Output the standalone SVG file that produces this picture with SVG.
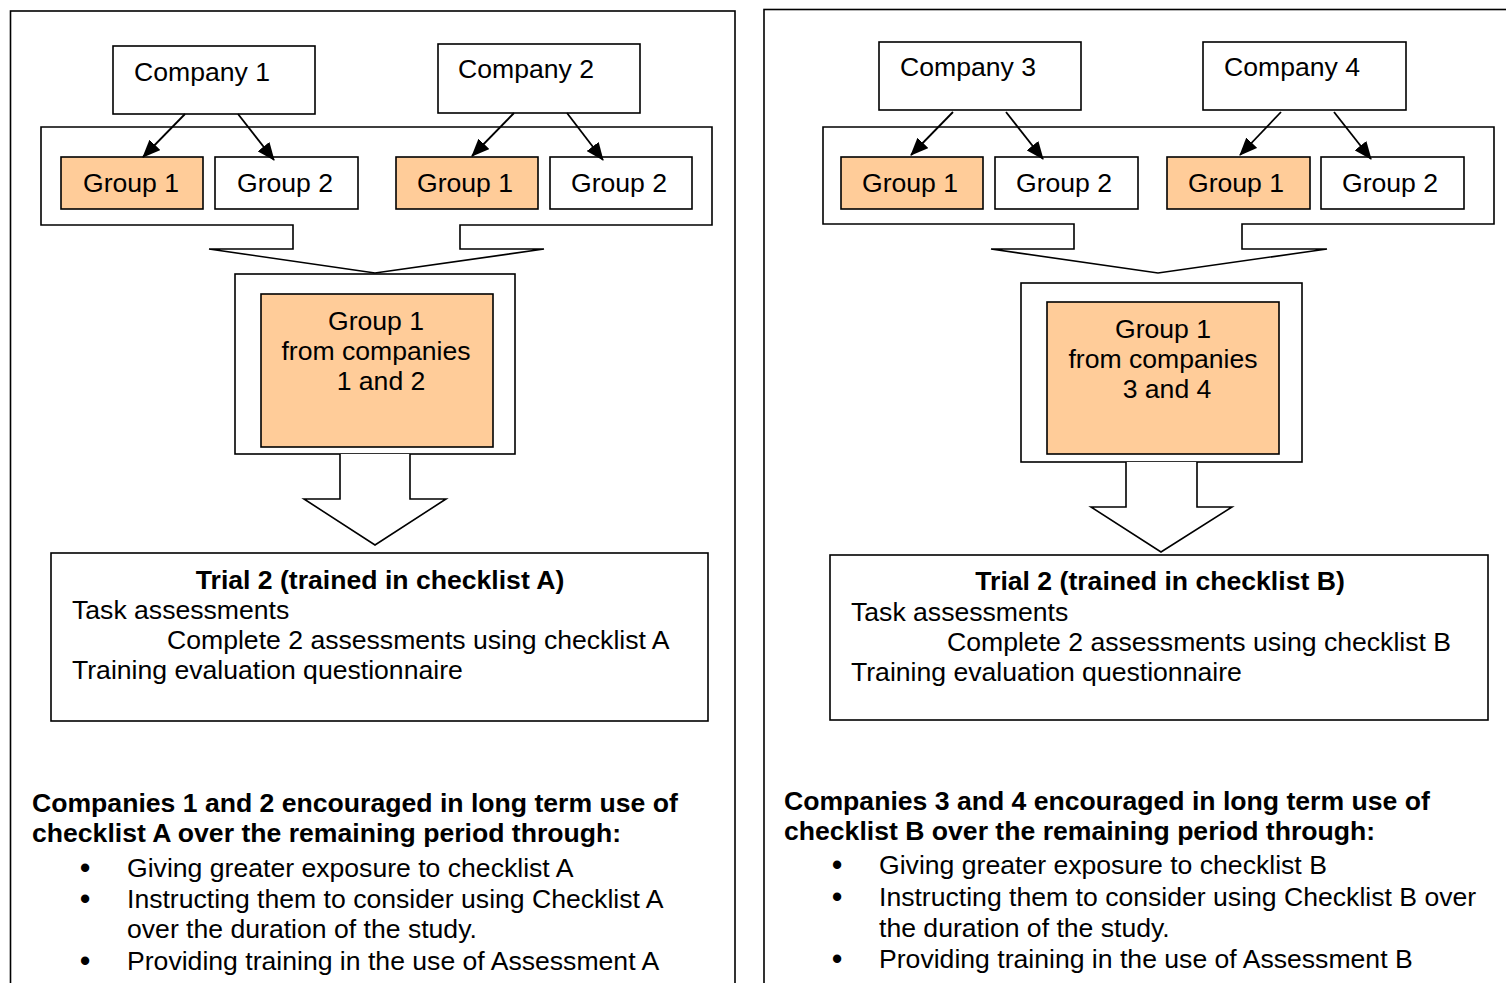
<svg xmlns="http://www.w3.org/2000/svg" width="1506" height="983" viewBox="0 0 1506 983">
<style>
text{font-family:"Liberation Sans",Arial,sans-serif;font-size:26.6px;fill:#000}
.b{font-weight:bold}
.m{text-anchor:middle}
.bu{font-size:29px;font-weight:bold;text-anchor:middle}
.box{fill:#fff;stroke:#000;stroke-width:1.6}
.org{fill:#FFCC99;stroke:#000;stroke-width:1.6}
.ln{fill:none;stroke:#000;stroke-width:1.8}
</style>
<defs>
<marker id="ah" markerUnits="userSpaceOnUse" markerWidth="18" markerHeight="15" refX="17" refY="7.5" orient="auto">
<path d="M0,0 L18,7.5 L0,15 Z" fill="#000"/>
</marker>
</defs>
<rect width="1506" height="983" fill="#fff"/>
<!-- left panel -->
<g id="panelA">
<rect class="box" x="10.5" y="11" width="724.5" height="990"/>
</g>
<g id="containerA"><path class="box" d="M41,127 H712 V225 H460 V249 H544 L375,273 L209,249 H293 V225 H41 Z"/></g>
<g id="company1"><rect class="box" x="113" y="46" width="202" height="68"/><text x="134" y="81">Company 1</text></g>
<g id="company2"><rect class="box" x="438" y="44" width="202" height="69"/><text x="458" y="78">Company 2</text></g>
<g id="a_g1"><rect class="org" x="61" y="157" width="142" height="52"/><text class="m" x="131" y="192">Group 1</text></g>
<g id="a_g2"><rect class="box" x="215" y="157" width="143" height="52"/><text class="m" x="285" y="192">Group 2</text></g>
<g id="b_g1"><rect class="org" x="396" y="157" width="142" height="52"/><text class="m" x="465" y="192">Group 1</text></g>
<g id="b_g2"><rect class="box" x="550" y="157" width="142" height="52"/><text class="m" x="619" y="192">Group 2</text></g>
<g id="mergeA">
<rect class="box" x="235" y="274" width="280" height="180"/>
<rect class="org" x="261" y="294" width="232" height="153"/>
<text class="m" x="376" y="330">Group 1</text>
<text class="m" x="376" y="360">from companies</text>
<text class="m" x="381" y="390">1 and 2</text>
</g>
<g id="downA"><path class="box" d="M340,454 V499 H304 L375,545 L446,499 H410 V454"/></g>
<g id="trialA">
<rect class="box" x="51" y="553" width="657" height="168"/>
<text class="b m" x="380" y="589">Trial 2 (trained in checklist A)</text>
<text x="72" y="619">Task assessments</text>
<text x="167" y="649">Complete 2 assessments using checklist A</text>
<text x="72" y="679">Training evaluation questionnaire</text>
</g>
<g id="notesA">
<text class="b" x="32" y="812">Companies 1 and 2 encouraged in long term use of</text>
<text class="b" x="32" y="842">checklist A over the remaining period through:</text>
<text class="bu" x="85" y="878">•</text><text x="127" y="877">Giving greater exposure to checklist A</text>
<text class="bu" x="85" y="909">•</text><text x="127" y="908">Instructing them to consider using Checklist A</text>
<text x="127" y="938">over the duration of the study.</text>
<text class="bu" x="85" y="971">•</text><text x="127" y="970">Providing training in the use of Assessment A</text>
</g>
<!-- right panel -->
<g id="panelB">
<rect class="box" x="764" y="9.5" width="760" height="990"/>
</g>
<g id="containerB"><path class="box" d="M823,127 H1494 V224 H1242 V249 H1327 L1158,273 L991,249 H1074 V224 H823 Z"/></g>
<g id="company3"><rect class="box" x="879" y="42" width="202" height="68"/><text x="900" y="76">Company 3</text></g>
<g id="company4"><rect class="box" x="1203" y="42" width="203" height="68"/><text x="1224" y="76">Company 4</text></g>
<g id="c_g1"><rect class="org" x="841" y="157" width="142" height="52"/><text class="m" x="910" y="192">Group 1</text></g>
<g id="c_g2"><rect class="box" x="995" y="157" width="143" height="52"/><text class="m" x="1064" y="192">Group 2</text></g>
<g id="d_g1"><rect class="org" x="1167" y="157" width="143" height="52"/><text class="m" x="1236" y="192">Group 1</text></g>
<g id="d_g2"><rect class="box" x="1321" y="157" width="143" height="52"/><text class="m" x="1390" y="192">Group 2</text></g>
<g id="mergeB">
<rect class="box" x="1021" y="283" width="281" height="179"/>
<rect class="org" x="1047" y="302" width="232" height="152"/>
<text class="m" x="1163" y="338">Group 1</text>
<text class="m" x="1163" y="368">from companies</text>
<text class="m" x="1167" y="398">3 and 4</text>
</g>
<g id="downB"><path class="box" d="M1126,462 V507 H1091 L1161,552 L1232,507 H1197 V462"/></g>
<g id="trialB">
<rect class="box" x="830" y="555" width="658" height="165"/>
<text class="b m" x="1160" y="590">Trial 2 (trained in checklist B)</text>
<text x="851" y="621">Task assessments</text>
<text x="947" y="651">Complete 2 assessments using checklist B</text>
<text x="851" y="681">Training evaluation questionnaire</text>
</g>
<g id="notesB">
<text class="b" x="784" y="810">Companies 3 and 4 encouraged in long term use of</text>
<text class="b" x="784" y="840">checklist B over the remaining period through:</text>
<text class="bu" x="837" y="875">•</text><text x="879" y="874">Giving greater exposure to checklist B</text>
<text class="bu" x="837" y="907">•</text><text x="879" y="906">Instructing them to consider using Checklist B over</text>
<text x="879" y="937">the duration of the study.</text>
<text class="bu" x="837" y="969">•</text><text x="879" y="968">Providing training in the use of Assessment B</text>
</g>
<g id="connectors">
<line class="ln" x1="185" y1="114" x2="143" y2="157" marker-end="url(#ah)"/>
<line class="ln" x1="238" y1="114" x2="274" y2="160" marker-end="url(#ah)"/>
<line class="ln" x1="514" y1="113" x2="472" y2="156" marker-end="url(#ah)"/>
<line class="ln" x1="567" y1="113" x2="603" y2="160" marker-end="url(#ah)"/>
<line class="ln" x1="953" y1="112" x2="911" y2="155" marker-end="url(#ah)"/>
<line class="ln" x1="1006" y1="112" x2="1043" y2="159" marker-end="url(#ah)"/>
<line class="ln" x1="1281" y1="112" x2="1240" y2="155" marker-end="url(#ah)"/>
<line class="ln" x1="1334" y1="112" x2="1371" y2="159" marker-end="url(#ah)"/>
</g>
</svg>
